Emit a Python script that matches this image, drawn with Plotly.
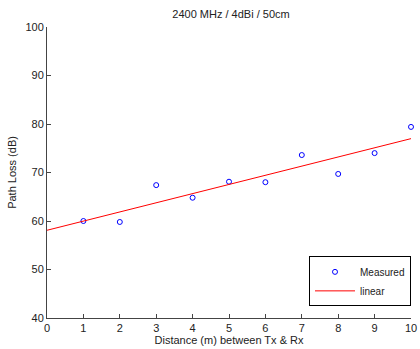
import numpy as np
import plotly.graph_objects as go

distance = [1, 2, 3, 4, 5, 6, 7, 8, 9, 10]
path_loss = [60.0, 59.8, 67.4, 64.8, 68.1, 68.0, 73.6, 69.7, 74.0, 79.4]

slope, intercept = np.polyfit(distance, path_loss, 1)
fit_x = [0, 10]
fit_y = [intercept + slope * v for v in fit_x]

fig = go.Figure()
fig.add_trace(go.Scatter(
    x=distance, y=path_loss, mode="markers", name="Measured",
    marker=dict(symbol="circle-open", size=5, color="#0000ff", line=dict(width=1)),
    cliponaxis=False,
))
fig.add_trace(go.Scatter(
    x=fit_x, y=fit_y, mode="lines", name="linear",
    line=dict(color="#ff0000", width=1),
))

FAM = "Liberation Sans, Arial, sans-serif"
TXT = dict(family=FAM, size=11, color="#222222")
fig.update_layout(
    width=420, height=349,
    margin=dict(l=47, r=3, t=27, b=31),
    paper_bgcolor="white", plot_bgcolor="white",
    font=TXT,
    title=dict(text="2400 MHz / 4dBi / 50cm", x=0.55, xanchor="center",
               y=0.96, yanchor="middle", font=TXT),
    xaxis=dict(range=[0, 10], dtick=1, tick0=0, showgrid=False, zeroline=False,
               showline=True, linecolor="#444444", linewidth=1, ticks="inside",
               ticklen=4, tickcolor="#444444", ticklabeloverflow="allow",
               tickfont=TXT,
               title=dict(text="Distance (m) between Tx & Rx", standoff=2, font=TXT)),
    yaxis=dict(range=[40, 100], dtick=10, showgrid=False, zeroline=False,
               showline=True, linecolor="#444444", linewidth=1, ticks="inside",
               ticklen=4, tickcolor="#444444", tickfont=TXT,
               title=dict(text="Path Loss (dB)", standoff=6, font=TXT)),
    legend=dict(x=1, y=0.04, xanchor="right", yanchor="bottom",
                bordercolor="#000000", borderwidth=1, bgcolor="white",
                font=dict(family=FAM, size=10, color="#222222"),
                itemwidth=40, tracegroupgap=0),
    showlegend=True,
)

fig.write_html("out.html")
